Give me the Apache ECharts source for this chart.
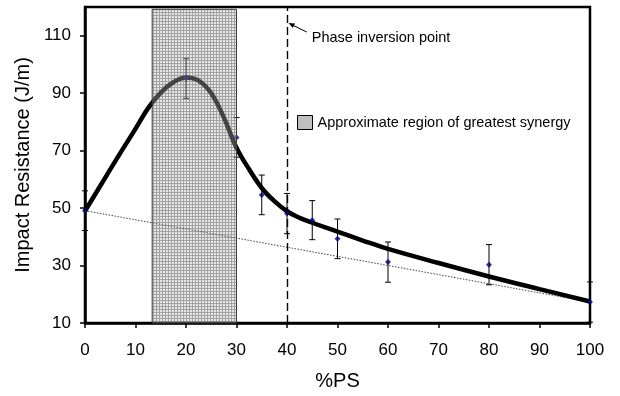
<!DOCTYPE html>
<html>
<head>
<meta charset="utf-8">
<script src="https://cdn.jsdelivr.net/npm/echarts@6/dist/echarts.min.js"></script>
<style>
html,body{margin:0;padding:0;background:#fff;}
#chart{width:620px;height:396px;}
</style>
</head>
<body>
<div id="chart"></div>
<script>
// ---- data ----
var psX      = [0, 20, 30, 35, 40, 45, 50, 60, 80, 100];
var impact   = [49.1, 95.1, 74.6, 54.6, 48.1, 45.8, 39.3, 31.2, 30.3, 17.3];
var impactErr= [6.9, 6.9, 6.9, 6.9, 7.0, 6.8, 6.9, 7.0, 7.0, 7.0];

var fitX = [0, 2.5, 5, 7.5, 10, 12.5, 15, 17.5, 20, 22.5, 25, 27.5, 30, 32.5, 35, 37.5, 40, 42.5, 45, 50, 55, 60, 70, 80, 90, 100];
var fitY = [49, 56.2, 63.5, 70.6, 77.6, 84.8, 90.2, 93.8, 95.5, 94.4, 90.0, 81.5, 71.0, 63.5, 57.0, 52.4, 48.9, 46.6, 44.9, 41.8, 38.7, 35.8, 30.9, 26.2, 21.8, 17.5];

var mixX = [0, 100];
var mixY = [49.1, 17.3];

var synergyRegionX = [13.3, 30];
var synergyRegionY = [10, 119.2];
var phaseInversionX = 40;

var yTickValues = [10, 30, 50, 70, 90, 110];
var xTickInterval = 10;

var FONT = "'Liberation Sans', Arial, sans-serif";

function zip(a, b, c) {
  return a.map(function (v, i) { return c ? [v, b[i], c[i]] : [v, b[i]]; });
}

// fine grid-hatch pattern for the shaded region
function makePattern() {
  var c = document.createElement('canvas');
  c.width = 3; c.height = 3;
  var g = c.getContext('2d');
  for (var i = 0; i < 3; i++) {
    for (var j = 0; j < 3; j++) {
      var line = (i === 0 || j === 0);
      g.fillStyle = line ? 'rgba(105,105,105,0.62)' : 'rgba(190,190,190,0.38)';
      g.fillRect(i, j, 1, 1);
    }
  }
  return c;
}
var patternCanvas = makePattern();

var chart = echarts.init(document.getElementById('chart'), null, {renderer: 'canvas'});

var option = {
  animation: false,
  backgroundColor: '#fff',
  textStyle: {fontFamily: FONT},
  grid: {
    left: 85, right: 30, top: 7, bottom: 73,
    show: true, borderColor: '#000', borderWidth: 2.5, backgroundColor: 'transparent'
  },
  legend: {
    left: 297, top: 115, padding: 0,
    itemWidth: 15, itemHeight: 14,
    textStyle: {fontFamily: FONT, fontSize: 14.5, color: '#000'},
    data: [{
      name: 'Approximate region of greatest synergy',
      icon: 'rect',
      itemStyle: {color: '#c0c0c0', borderColor: '#000', borderWidth: 1}
    }]
  },
  xAxis: {
    type: 'value', min: 0, max: 100, interval: xTickInterval,
    name: '%PS', nameLocation: 'middle', nameGap: 48,
    nameTextStyle: {fontFamily: FONT, fontSize: 20, color: '#000'},
    axisLine: {show: true, onZero: false, lineStyle: {color: '#000', width: 2.5}},
    axisTick: {show: true, inside: false, length: 5, lineStyle: {color: '#000', width: 1.5}},
    axisLabel: {fontFamily: FONT, fontSize: 17, color: '#000', margin: 19},
    splitLine: {show: false}
  },
  yAxis: {
    type: 'value', min: 10, max: 120,
    name: 'Impact Resistance (J/m)', nameLocation: 'middle', nameGap: 52,
    nameTextStyle: {fontFamily: FONT, fontSize: 20, color: '#000'},
    axisLine: {show: true, onZero: false, lineStyle: {color: '#000', width: 2.5}},
    axisTick: {show: true, inside: false, length: 5, customValues: yTickValues, lineStyle: {color: '#000', width: 1.5}},
    axisLabel: {fontFamily: FONT, fontSize: 17, color: '#000', margin: 14, customValues: yTickValues},
    splitLine: {show: false}
  },
  series: [
    {
      name: 'Rule of mixtures',
      type: 'line',
      data: zip(mixX, mixY),
      showSymbol: false, symbol: 'none',
      lineStyle: {color: '#444', width: 1, type: [1.5, 1.5]},
      z: 2, silent: true
    },
    {
      name: 'Fit',
      type: 'line',
      data: zip(fitX, fitY),
      smooth: 0.4,
      showSymbol: false, symbol: 'none',
      lineStyle: {color: '#000', width: 4.5},
      z: 3, silent: true,
      markLine: {
        silent: true, symbol: 'none',
        label: {show: false},
        lineStyle: {color: '#000', width: 1.4, type: [8, 4]},
        data: [{xAxis: phaseInversionX}]
      }
    },
    {
      name: 'Error bars',
      type: 'custom',
      data: zip(psX, impact, impactErr),
      z: 4, silent: true,
      renderItem: function (params, api) {
        var x = api.value(0), y = api.value(1), e = api.value(2);
        var top = api.coord([x, y + e]);
        var bot = api.coord([x, y - e]);
        var w = 3;
        var st = {stroke: '#000', lineWidth: 1};
        return {
          type: 'group',
          children: [
            {type: 'line', shape: {x1: top[0], y1: top[1], x2: bot[0], y2: bot[1]}, style: st},
            {type: 'line', shape: {x1: top[0] - w, y1: top[1], x2: top[0] + w, y2: top[1]}, style: st},
            {type: 'line', shape: {x1: bot[0] - w, y1: bot[1], x2: bot[0] + w, y2: bot[1]}, style: st}
          ]
        };
      }
    },
    {
      name: 'Data',
      type: 'scatter',
      data: zip(psX, impact),
      symbol: 'diamond', symbolSize: 6,
      itemStyle: {color: '#000080'},
      z: 5, silent: true
    },
    {
      name: 'Approximate region of greatest synergy',
      type: 'custom',
      data: [[synergyRegionX[0], synergyRegionX[1], synergyRegionY[0], synergyRegionY[1]]],
      z: 6, silent: true,
      itemStyle: {color: '#c0c0c0'},
      renderItem: function (params, api) {
        var p0 = api.coord([api.value(0), api.value(3)]);
        var p1 = api.coord([api.value(1), api.value(2)]);
        return {
          type: 'rect',
          shape: {x: p0[0], y: p0[1], width: p1[0] - p0[0], height: p1[1] - p0[1]},
          style: {fill: {image: patternCanvas, repeat: 'repeat'}, stroke: '#3a3a3a', lineWidth: 1}
        };
      }
    }
  ]
};

chart.setOption(option);

// annotation: "Phase inversion point" with arrow to the dashed line
var tip  = chart.convertToPixel({gridIndex: 0}, [phaseInversionX + 0.3, 114.4]);
var tail = chart.convertToPixel({gridIndex: 0}, [43.9, 111.3]);
var txt  = chart.convertToPixel({gridIndex: 0}, [44.9, 109.1]);
var ang = Math.atan2(tip[1] - tail[1], tip[0] - tail[0]);
var ah = 6, aw = 2.5;
var bx = tip[0] - ah * Math.cos(ang), by = tip[1] - ah * Math.sin(ang);
var nx = -Math.sin(ang), ny = Math.cos(ang);

chart.setOption({
  graphic: [
    {type: 'line', shape: {x1: tail[0], y1: tail[1], x2: bx, y2: by}, style: {stroke: '#000', lineWidth: 1}, z: 10},
    {type: 'polygon', shape: {points: [[tip[0], tip[1]], [bx + nx * aw, by + ny * aw], [bx - nx * aw, by - ny * aw]]}, style: {fill: '#000'}, z: 10},
    {type: 'text', x: txt[0], y: txt[1], style: {text: 'Phase inversion point', font: '14.5px ' + FONT, fill: '#000', textVerticalAlign: 'middle', textAlign: 'left'}, z: 10}
  ]
});
</script>
</body>
</html>
